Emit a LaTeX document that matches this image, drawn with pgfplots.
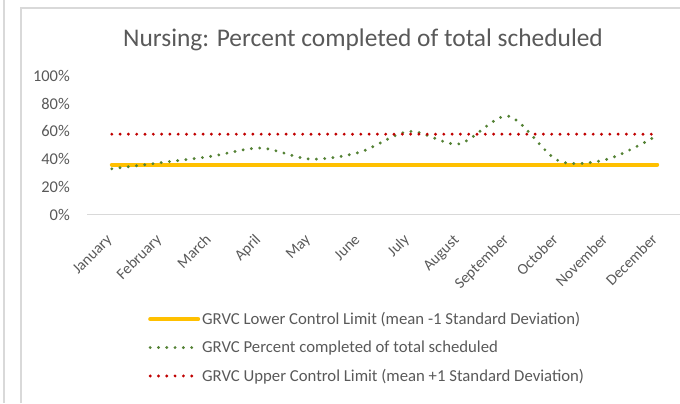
\documentclass[border=0pt]{standalone}
\usepackage{pgfplots}
\pgfplotsset{compat=1.18}
\usepackage{fontspec}
\setmainfont{Carlito}
\definecolor{txt}{HTML}{595959}
\definecolor{grid}{HTML}{D9D9D9}
\definecolor{lcl}{HTML}{FFC000}
\definecolor{pct}{HTML}{548235}
\definecolor{ucl}{HTML}{C00000}
\begin{document}
\begin{tikzpicture}[x=1bp,y=1bp]
\path[use as bounding box] (0,-403) rectangle (680,0);
\draw[grid, line width=1.2bp] (4,0) -- (4,-403);
\draw[grid, line width=1.2bp] (21,-403) -- (21,-8) -- (690,-8);
\node[txt, font=\fontsize{25.5}{30}\selectfont] at (363,-40) {Nursing: Percent completed of total scheduled};
\begin{axis}[
  at={(87bp,-214.5bp)}, anchor=south west,
  scale only axis, width=595bp, height=138.5bp,
  xmin=-0.5, xmax=11.5, ymin=0, ymax=100,
  axis line style={draw=none},
  clip=false,
  xtick={0,...,11},
  xticklabels={January,February,March,April,May,June,July,August,September,October,November,December},
  ytick={0,20,40,60,80,100},
  yticklabel={\pgfmathprintnumber{\tick}\%},
  /pgf/number format/assume math mode=true,
  tick style={draw=none},
  every tick label/.append style={txt, font=\fontsize{16.5}{19}\selectfont},
  yticklabel style={anchor=east, inner sep=0pt, xshift=-17bp},
  xticklabel style={anchor=base east, inner sep=0pt, xshift=1bp, yshift=-26bp, rotate=45, font=\fontsize{15.5}{18}\selectfont},
  legend cell align=left,
  legend style={at={(axis description cs:0.1025,-0.69)}, anchor=north west, draw=none, fill=none,
    font=\fontsize{16.8}{19}\selectfont, text=txt, row sep=11bp, inner sep=0pt},
  legend image code/.code={\draw[#1] (0bp,0bp) -- (48bp,0bp);},
]
\draw[grid, line width=1.2bp] (axis cs:-0.5,0) -- (axis cs:11.5,0);
\addplot[lcl, line width=4bp, line cap=round] coordinates {(0,36) (11,36)};
\addlegendentry{GRVC Lower Control Limit (mean -1 Standard Deviation)}
\addplot[pct, line width=3.2bp, line cap=round, dash pattern=on 0bp off 8.3bp, smooth, tension=0.5] coordinates {
(0,33) (1,37.5) (2,42) (3,48) (4,40) (5,45) (6,60) (7,51) (8,71) (9,39) (10,40) (11,57)};
\addlegendentry{GRVC Percent completed of total scheduled}
\addplot[ucl, line width=3.2bp, line cap=round, dash pattern=on 0bp off 8.3bp] coordinates {(0,58) (11,58)};
\addlegendentry{GRVC Upper Control Limit (mean +1 Standard Deviation)}
\end{axis}
\end{tikzpicture}
\end{document}
